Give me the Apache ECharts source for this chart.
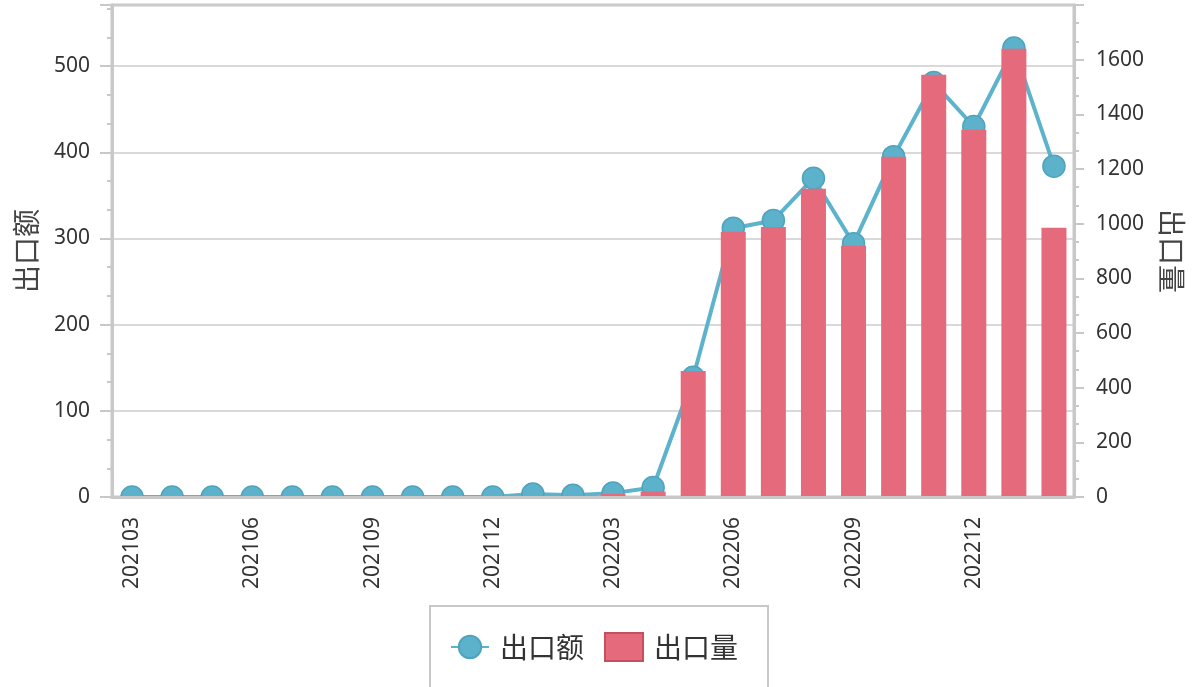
<!DOCTYPE html>
<html>
<head>
<meta charset="utf-8">
<script src="https://cdn.jsdelivr.net/npm/echarts@6/dist/echarts.min.js"></script>
<style>
  html, body { margin: 0; padding: 0; background: #fff; }
  #chart { width: 1194px; height: 687px; }
</style>
</head>
<body>
<div id="chart"></div>
<script>
// months on the category axis
const months = [
  '202103', '202104', '202105', '202106', '202107', '202108',
  '202109', '202110', '202111', '202112', '202201', '202202',
  '202203', '202204', '202205', '202206', '202207', '202208',
  '202209', '202210', '202211', '202212', '202301', '202302'
];
// 出口额 (left axis)
const exportValue = [0, 0, 0, 0, 0, 0, 0, 0, 0, 0, 3.5, 2, 4.5, 11, 139, 312, 321, 370, 294, 395, 481, 430, 521, 384];
// 出口量 (right axis)
const exportVolume = [0, 0, 0, 0, 0, 0, 0, 0, 0, 0, 3, 4, 11, 20, 461, 970, 988, 1128, 919, 1245, 1545, 1344, 1640, 985];

const numFont = 'Noto Sans';
const cjkFont = 'Noto Sans CJK SC';
const gray = '#c8c8c8';

// helper slots for the small ticks under the x axis (10 per month)
const tickSlots = months.flatMap(() => new Array(10).fill(''));

const chart = echarts.init(document.getElementById('chart'), null, { renderer: 'canvas' });

chart.setOption({
  animation: false,
  grid: {
    left: 112, right: 120, top: 5, bottom: 190,
    show: true, borderColor: gray, borderWidth: 3, backgroundColor: 'transparent'
  },
  legend: {
    left: 430, top: 606,
    padding: [26, 30, 40, 20],
    borderColor: gray, borderWidth: 2,
    itemWidth: 38, itemHeight: 28, itemGap: 20,
    textStyle: { fontSize: 28, color: '#333', fontFamily: cjkFont, padding: [0, 0, 0, 6] },
    data: [
      { name: '出口额' },
      { name: '出口量', icon: 'rect', itemStyle: { borderColor: '#c4505f', borderWidth: 2 } }
    ]
  },
  xAxis: [
    {
      type: 'category',
      data: months,
      boundaryGap: true,
      z: 5,
      axisLine: { lineStyle: { color: gray, width: 3 } },
      axisTick: { alignWithLabel: true, interval: 2, length: 11, lineStyle: { color: gray, width: 2 } },
      axisLabel: { interval: 2, rotate: 90, margin: 20, fontSize: 21, color: '#333', fontFamily: numFont },
      splitLine: { show: false }
    },
    {
      type: 'category',
      data: tickSlots,
      position: 'bottom',
      boundaryGap: true,
      z: 5,
      axisLine: { show: false },
      axisLabel: { show: false },
      axisTick: { interval: (i) => i % 6 === 5, length: 5, lineStyle: { color: gray, width: 2 } },
      splitLine: { show: false }
    }
  ],
  yAxis: [
    {
      type: 'value',
      position: 'left',
      min: 0, max: 571, interval: 100,
      name: '出口额', nameLocation: 'middle', nameGap: 72,
      nameTextStyle: { fontSize: 28, color: '#444', fontFamily: cjkFont },
      axisLine: { show: true, lineStyle: { color: gray, width: 3 } },
      axisTick: { show: true, length: 12, lineStyle: { color: gray, width: 2 } },
      minorTick: { show: true, splitNumber: 3, length: 5, lineStyle: { color: gray, width: 2 } },
      splitLine: { show: true, lineStyle: { color: '#cdcdcd', width: 1.5 } },
      axisLabel: { showMaxLabel: false, margin: 22, fontSize: 21, color: '#333', fontFamily: numFont }
    },
    {
      type: 'value',
      position: 'right',
      min: 0, max: 1800, interval: 200,
      name: '出口量', nameLocation: 'middle', nameGap: 84, nameRotate: -90,
      nameTextStyle: { fontSize: 28, color: '#444', fontFamily: cjkFont },
      axisLine: { show: true, lineStyle: { color: gray, width: 3 } },
      axisTick: { show: true, length: 10, lineStyle: { color: gray, width: 2 } },
      minorTick: { show: true, splitNumber: 3, length: 5, lineStyle: { color: gray, width: 2 } },
      splitLine: { show: false },
      axisLabel: {
        showMaxLabel: false, margin: 22, fontSize: 21, color: '#333', fontFamily: numFont,
        formatter: (v) => String(v)
      }
    }
  ],
  // hides the lower half of the markers that sit on the x axis
  graphic: {
    elements: [{
      type: 'rect', z: 3, silent: true,
      shape: { x: 114, y: 499, width: 958, height: 18 },
      style: { fill: '#fff' }
    }]
  },
  series: [
    {
      name: '出口额',
      type: 'line',
      xAxisIndex: 0,
      yAxisIndex: 0,
      data: exportValue,
      z: 2,
      symbol: 'circle',
      symbolSize: 22,
      showAllSymbol: true,
      lineStyle: { color: '#5db3cc', width: 4 },
      itemStyle: { color: '#5db2cb', borderColor: '#4ea3bd', borderWidth: 1.5 }
    },
    {
      name: '出口量',
      type: 'bar',
      xAxisIndex: 0,
      yAxisIndex: 1,
      data: exportVolume,
      z: 4,
      barWidth: 25,
      itemStyle: { color: '#e56a7b' }
    }
  ]
});
</script>
</body>
</html>
